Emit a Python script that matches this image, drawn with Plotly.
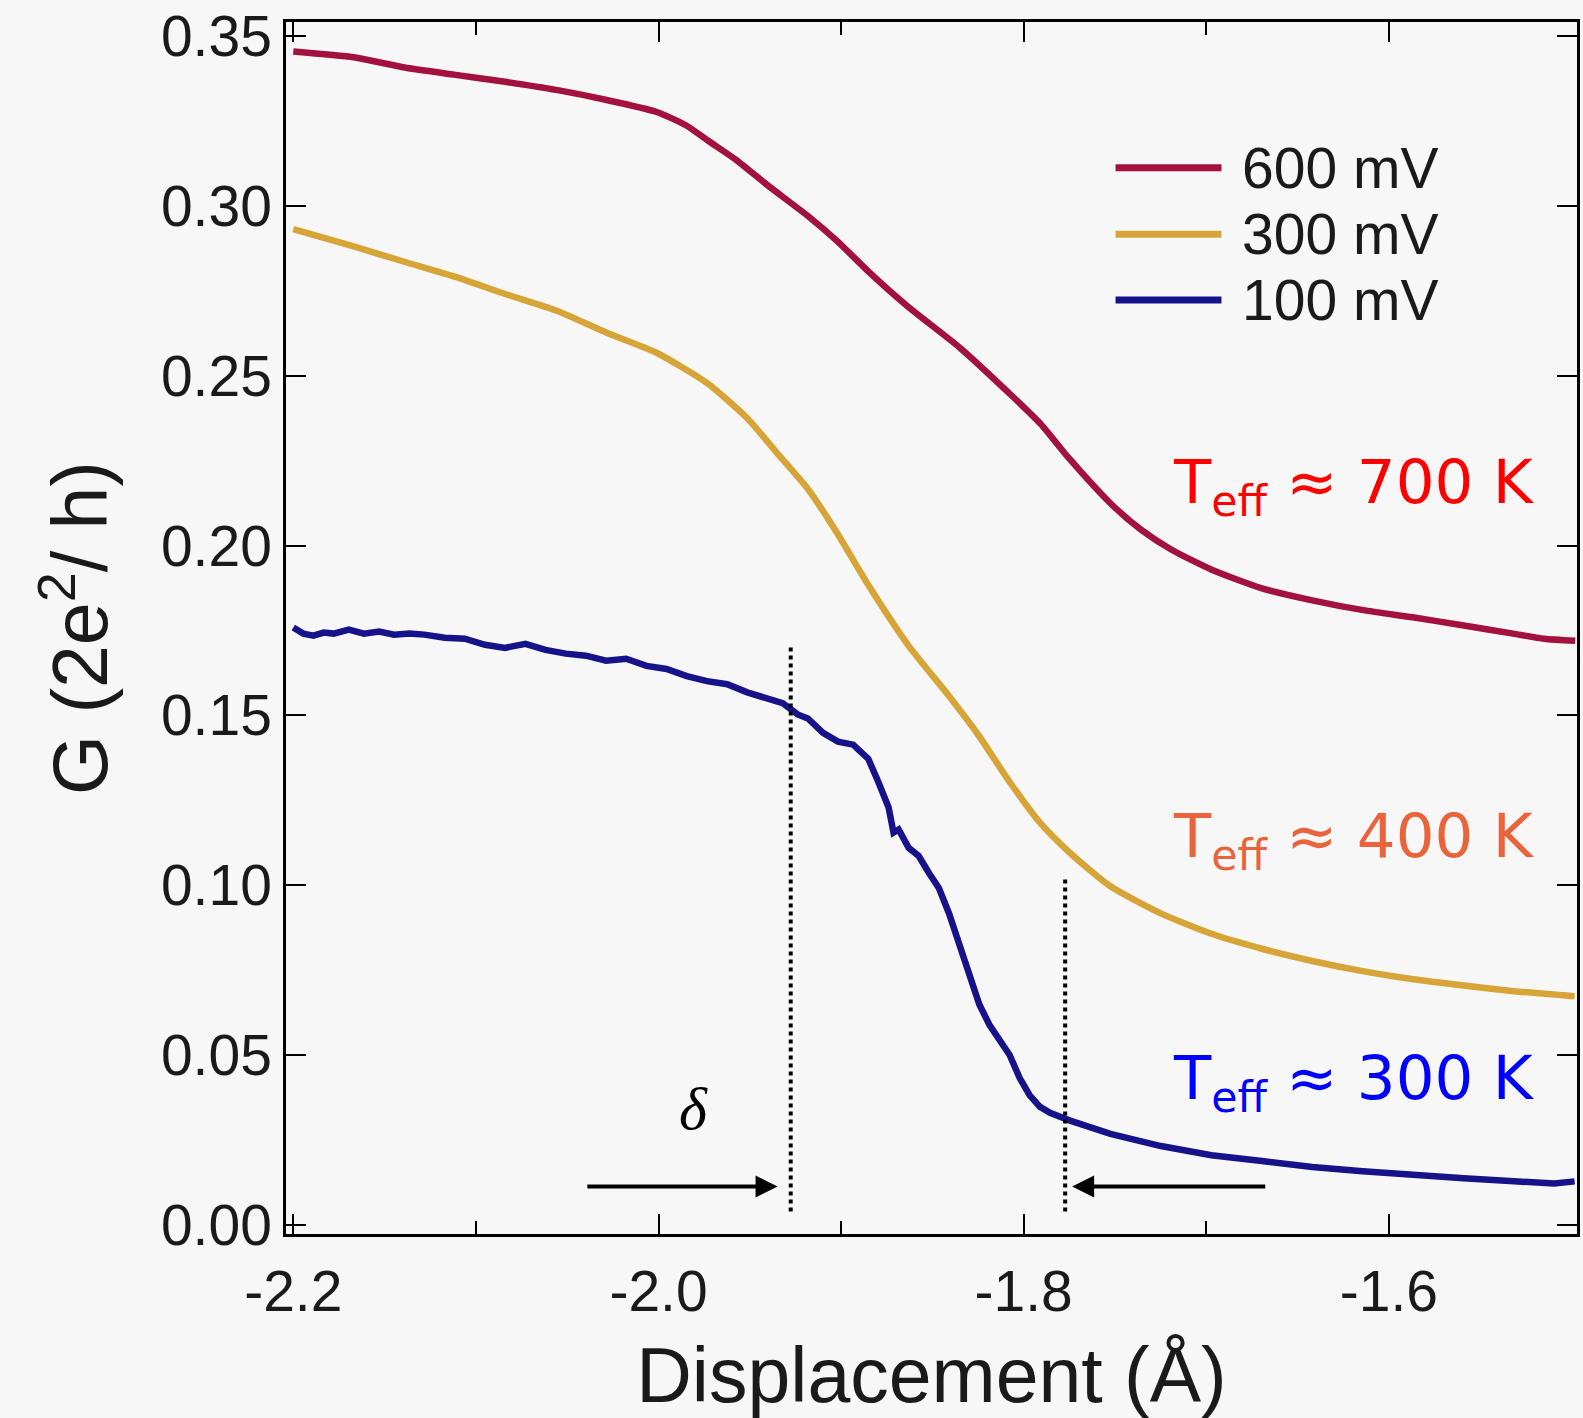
import plotly.graph_objects as go

# ---- data -------------------------------------------------------------
# Conductance G (2e^2/h) vs. displacement (Å) for three bias voltages
x_600 = [-2.200, -2.167, -2.139, -2.112, -2.084, -2.056, -2.029, -2.001, -1.985,
         -1.973, -1.957, -1.940, -1.918, -1.902, -1.885, -1.863, -1.835, -1.808,
         -1.791, -1.775, -1.752, -1.736, -1.719, -1.697, -1.670, -1.642, -1.614,
         -1.587, -1.559, -1.532, -1.515, -1.498]
g_600 = [0.3455, 0.3438, 0.3408, 0.3387, 0.3366, 0.3342, 0.3313, 0.3277, 0.3238,
         0.3193, 0.3134, 0.3060, 0.2970, 0.2896, 0.2807, 0.2702, 0.2583, 0.2449,
         0.2360, 0.2256, 0.2122, 0.2048, 0.1988, 0.1929, 0.1875, 0.1839, 0.1810,
         0.1789, 0.1765, 0.1741, 0.1726, 0.1720]

x_300 = [-2.2000, -2.1669, -2.1392, -2.1116, -2.0840, -2.0564, -2.0287, -2.0011,
         -1.9735, -1.9514, -1.9348, -1.9182, -1.9017, -1.8851, -1.8630, -1.8409,
         -1.8243, -1.8077, -1.7912, -1.7746, -1.7525, -1.7249, -1.6972, -1.6696,
         -1.6420, -1.6144, -1.5867, -1.5591, -1.5315, -1.4983]
g_300 = [0.2932, 0.2881, 0.2836, 0.2792, 0.2741, 0.2693, 0.2628, 0.2568,
         0.2479, 0.2375, 0.2271, 0.2167, 0.2033, 0.1884, 0.1705, 0.1557,
         0.1438, 0.1304, 0.1185, 0.1095, 0.0997, 0.0917, 0.0857, 0.0813,
         0.0777, 0.0747, 0.0723, 0.0705, 0.0688, 0.0673]

x_100 = [-2.2000, -2.1945, -2.1890, -2.1834, -2.1779, -2.1696, -2.1613, -2.1530,
         -2.1448, -2.1365, -2.1282, -2.1171, -2.1061, -2.0950, -2.0840, -2.0729,
         -2.0619, -2.0508, -2.0398, -2.0287, -2.0177, -2.0066, -1.9956, -1.9845,
         -1.9735, -1.9624, -1.9514, -1.9403, -1.9320, -1.9238, -1.9182, -1.9099,
         -1.9017, -1.8934, -1.8851, -1.8796, -1.8740, -1.8713, -1.8685, -1.8630,
         -1.8575, -1.8519, -1.8464, -1.8409, -1.8354, -1.8298, -1.8243, -1.8188,
         -1.8133, -1.8077, -1.8022, -1.7967, -1.7912, -1.7856, -1.7746, -1.7635,
         -1.7525, -1.7249, -1.6972, -1.6696, -1.6420, -1.6144, -1.5867, -1.5591,
         -1.5315, -1.5094, -1.4983]
g_100 = [0.1759, 0.1741, 0.1735, 0.1744, 0.1741, 0.1753, 0.1741, 0.1747,
         0.1738, 0.1741, 0.1738, 0.1729, 0.1726, 0.1708, 0.1699, 0.1711,
         0.1693, 0.1682, 0.1676, 0.1661, 0.1667, 0.1646, 0.1637, 0.1616,
         0.1601, 0.1592, 0.1568, 0.1551, 0.1536, 0.1503, 0.1491, 0.1449,
         0.1423, 0.1414, 0.1372, 0.1304, 0.1229, 0.1155, 0.1164, 0.1110,
         0.1086, 0.1036, 0.0991, 0.0917, 0.0827, 0.0738, 0.0649, 0.0589,
         0.0545, 0.0500, 0.0432, 0.0381, 0.0348, 0.0330, 0.0307, 0.0286,
         0.0268, 0.0232, 0.0205, 0.0188, 0.0170, 0.0158, 0.0146, 0.0137,
         0.0128, 0.0122, 0.0128]

series_names = ["600 mV", "300 mV", "100 mV"]
x_tickvals = [-2.2, -2.0, -1.8, -1.6]
x_ticktext = ["-2.2", "-2.0", "-1.8", "-1.6"]
x_minor_tickvals = [-2.1, -1.9, -1.7]
y_tickvals = [0.00, 0.05, 0.10, 0.15, 0.20, 0.25, 0.30, 0.35]

# onset positions marked by dotted lines, and their G extent
onset_x = [-1.9276, -1.7773]
onset_top = [0.1705, 0.1020]

# ---- styling ----------------------------------------------------------
colors = ["#a3123e", "#d6a437", "#16128a"]
bg = "#f7f7f7"
sans = "Liberation Sans, Arial, sans-serif"

fig = go.Figure()
for xs, ys, name, col, shape in [
    (x_600, g_600, series_names[0], colors[0], "spline"),
    (x_300, g_300, series_names[1], colors[1], "spline"),
    (x_100, g_100, series_names[2], colors[2], "linear"),
]:
    fig.add_trace(go.Scatter(
        x=xs, y=ys, mode="lines", name=name, showlegend=False,
        line=dict(color=col, width=6.5, shape=shape, smoothing=0.6),
    ))

# legend drawn inside the axes: long line samples + labels
leg_y = [0.3113, 0.2917, 0.2723]
for name, col, yy in zip(series_names, colors, leg_y):
    fig.add_shape(type="line", xref="x", yref="y",
                  x0=-1.7497, x1=-1.6917, y0=yy, y1=yy,
                  line=dict(color=col, width=7))
    fig.add_annotation(x=-1.6818, y=yy, xref="x", yref="y", text=name,
                       showarrow=False, xanchor="left", yanchor="middle",
                       font=dict(family=sans, size=57, color="#1a1a1a"))

# dotted onset markers
for xo, yt in zip(onset_x, onset_top):
    fig.add_shape(type="line", xref="x", yref="y",
                  x0=xo, x1=xo, y0=0.0039, y1=yt,
                  line=dict(color="black", width=4, dash="dot"))

# arrows pointing at the two onsets
arrow_y = 0.0113
for head, tail in [(-1.9348, -2.0398), (-1.7735, -1.6669)]:
    fig.add_annotation(x=head, y=arrow_y, ax=tail, ay=arrow_y,
                       xref="x", yref="y", axref="x", ayref="y",
                       text="", showarrow=True, arrowhead=2, arrowsize=1.1,
                       arrowwidth=4, arrowcolor="black", standoff=0)

fig.add_annotation(x=-1.9807, y=0.0342, xref="x", yref="y", text="<i>δ</i>",
                   showarrow=False, xanchor="center", yanchor="middle",
                   font=dict(family="Liberation Serif, Times New Roman, serif",
                             size=60, color="black"))

# effective temperature labels
teff_font = "DejaVu Sans, Verdana, sans-serif"
for label, yy, col in [("700 K", 0.2176, "#ff0000"),
                       ("400 K", 0.1134, "#e9633b"),
                       ("300 K", 0.0420, "#0000ff")]:
    fig.add_annotation(x=-1.7193, y=yy, xref="x", yref="y",
                       text="T<sub>eff</sub> ≈ " + label,
                       showarrow=False, xanchor="left", yanchor="middle",
                       font=dict(family=teff_font, size=61, color=col))

fig.update_layout(
    width=1583, height=1418,
    margin=dict(l=286, r=3, t=22, b=184),
    paper_bgcolor=bg, plot_bgcolor=bg,
    showlegend=False,
)
fig.update_xaxes(
    range=[-2.204, -1.497],
    tickvals=x_tickvals, ticktext=x_ticktext,
    ticks="inside", ticklen=20, tickwidth=2, tickcolor="black",
    minor=dict(tickvals=x_minor_tickvals, ticks="inside", ticklen=13,
               tickwidth=2, tickcolor="black"),
    showline=True, linecolor="black", linewidth=2.5, mirror="ticks",
    showgrid=False, zeroline=False,
    tickfont=dict(family=sans, size=57, color="#1a1a1a"),
    ticklabelstandoff=6,
    title=dict(text="Displacement (Å)", standoff=36,
               font=dict(family=sans, size=77, color="#1a1a1a")),
)
fig.update_yaxes(
    range=[-0.0027, 0.3542],
    tickvals=y_tickvals, tickformat=".2f",
    ticks="inside", ticklen=20, tickwidth=2, tickcolor="black",
    showline=True, linecolor="black", linewidth=2.5, mirror="ticks",
    showgrid=False, zeroline=False,
    tickfont=dict(family=sans, size=57, color="#1a1a1a"),
    ticklabelstandoff=0,
    title=dict(text="G (2e<sup>2</sup>/ h)", standoff=28,
               font=dict(family=sans, size=77, color="#1a1a1a")),
)

fig.write_html("out.html")
